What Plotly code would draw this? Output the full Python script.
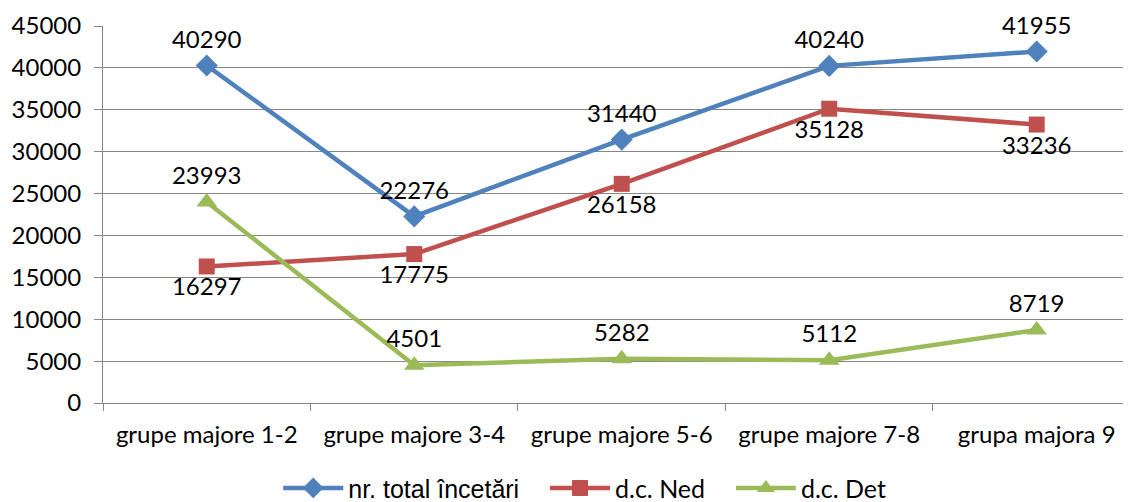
import plotly.graph_objects as go

categories = ["grupe majore 1-2", "grupe majore 3-4", "grupe majore 5-6", "grupe majore 7-8", "grupa majora 9"]
total = [40290, 22276, 31440, 40240, 41955]
ned = [16297, 17775, 26158, 35128, 33236]
det = [23993, 4501, 5282, 5112, 8719]
y_ticks = list(range(0, 45001, 5000))
series_names = ["nr. total încetări", "d.c. Ned", "d.c. Det"]

LBL_FONT = dict(family="Lato, 'Open Sans', sans-serif", size=24, color="#000000")
GAP = "\u00a0\u00a0\u00a0"

fig = go.Figure()
fig.add_trace(go.Scatter(
    x=categories, y=total, name=series_names[0] + GAP, mode="lines+markers+text",
    line=dict(color="#4F81BD", width=4.5),
    marker=dict(symbol="diamond", size=17, color="#4F81BD"),
    text=[str(v) for v in total], textposition="top center", textfont=LBL_FONT,
    cliponaxis=False,
))
fig.add_trace(go.Scatter(
    x=categories, y=ned,
    name="<span style='font-family:Lato'>" + series_names[1] + "</span>" + GAP,
    mode="lines+markers+text",
    line=dict(color="#C0504D", width=4.5),
    marker=dict(symbol="square", size=16, color="#C0504D"),
    text=[str(v) for v in ned], textposition="bottom center", textfont=LBL_FONT,
    cliponaxis=False,
))
fig.add_trace(go.Scatter(
    x=categories, y=det,
    name="<span style='font-family:Lato'>" + series_names[2] + "</span>",
    mode="lines+markers+text",
    line=dict(color="#9BBB59", width=4.5),
    marker=dict(symbol="triangle-up", size=18, color="#9BBB59"),
    text=[str(v) for v in det], textposition="top center", textfont=LBL_FONT,
    cliponaxis=False,
))

# page body has an 8px margin, so the figure is shifted by (8, 8)
fig.update_layout(
    width=1131, height=502,
    margin=dict(l=95, r=0, t=18, b=107, autoexpand=False),
    paper_bgcolor="white", plot_bgcolor="white",
    font=LBL_FONT,
    showlegend=True,
    legend=dict(orientation="h", x=0.465, xanchor="center", y=-0.226, yanchor="middle",
                font=dict(family="'Liberation Sans', Arial, sans-serif", size=25, color="#000000"),
                itemwidth=60),
    xaxis=dict(type="category", range=[-0.5, 4.493], showgrid=False, automargin=False,
               showline=True, linecolor="#868686", linewidth=1,
               ticks="outside", tickson="boundaries", ticklen=7, tickcolor="#868686",
               ticklabelstandoff=10, tickfont=LBL_FONT),
    yaxis=dict(range=[0, 45000], tickvals=y_ticks, ticktext=[str(v) for v in y_ticks],
               automargin=False,
               showgrid=True, gridcolor="#868686", gridwidth=1,
               showline=True, linecolor="#868686", linewidth=1,
               ticks="outside", ticklen=8, tickcolor="#868686",
               tickfont=LBL_FONT, ticklabelstandoff=8, zeroline=False),
)

fig.write_html("out.html")
